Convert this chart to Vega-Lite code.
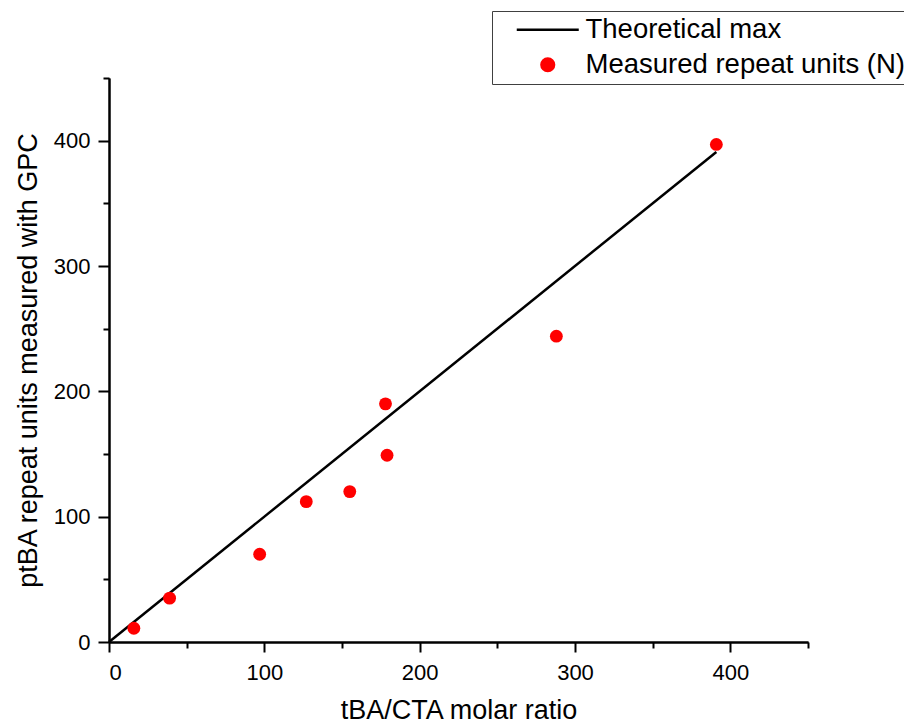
{
  "$schema": "https://vega.github.io/schema/vega-lite/v6.json",
  "width": 699,
  "height": 564,
  "autosize": {"type": "none"},
  "padding": {"left": 109, "top": 78, "right": 96, "bottom": 81},
  "background": "white",
  "config": {
    "font": "Liberation Sans",
    "view": {"stroke": null},
    "axis": {
      "grid": false,
      "domainColor": "black",
      "domainWidth": 2,
      "tickColor": "black",
      "tickWidth": 2,
      "labelColor": "black",
      "titleColor": "black",
      "labelFont": "Liberation Sans",
      "titleFont": "Liberation Sans",
      "labelFontSize": 22,
      "titleFontSize": 27,
      "titleFontWeight": "normal"
    },
    "legend": {"labelFont": "Liberation Sans"}
  },
  "datasets": {
    "theory": [
      {"x": 0, "y": 0, "series": "Theoretical max"},
      {"x": 391, "y": 391, "series": "Theoretical max"}
    ],
    "measured": [
      {"x": 16, "y": 11, "series": "Measured repeat units (N)"},
      {"x": 39, "y": 35, "series": "Measured repeat units (N)"},
      {"x": 97, "y": 70, "series": "Measured repeat units (N)"},
      {"x": 127, "y": 112, "series": "Measured repeat units (N)"},
      {"x": 155, "y": 120, "series": "Measured repeat units (N)"},
      {"x": 178, "y": 190, "series": "Measured repeat units (N)"},
      {"x": 179, "y": 149, "series": "Measured repeat units (N)"},
      {"x": 288, "y": 244, "series": "Measured repeat units (N)"},
      {"x": 391, "y": 397, "series": "Measured repeat units (N)"}
    ]
  },
  "layer": [
    {
      "data": {"name": "theory"},
      "mark": {"type": "line", "strokeWidth": 2.5},
      "encoding": {
        "x": {
          "field": "x", "type": "quantitative",
          "scale": {"domain": [0, 450], "nice": false, "zero": false},
          "axis": {"orient": "bottom", "values": [0, 100, 200, 300, 400], "tickSize": 10, "labelPadding": 10, "title": "tBA/CTA molar ratio", "titlePadding": 14}
        },
        "y": {
          "field": "y", "type": "quantitative",
          "scale": {"domain": [0, 450], "nice": false, "zero": false},
          "axis": {"orient": "left", "values": [0, 100, 200, 300, 400], "tickSize": 11, "labelPadding": 8, "title": "ptBA repeat units measured with GPC", "titlePadding": 11}
        },
        "color": {
          "field": "series", "type": "nominal",
          "scale": {"domain": ["Theoretical max", "Measured repeat units (N)"], "range": ["black", "#ff0000"]},
          "legend": {
            "orient": "none",
            "legendX": 383,
            "legendY": -67,
            "title": null,
            "strokeColor": "#404040",
            "padding": 5,
            "labelFontSize": 27.5,
            "labelColor": "black",
            "labelLimit": 600,
            "symbolSize": 140,
            "rowPadding": 6,
            "symbolOffset": 37,
            "labelOffset": 24,
            "encode": {
              "symbols": {
                "update": {
                  "shape": {"signal": "datum.value === 'Theoretical max' ? 'stroke' : 'circle'"},
                  "size": {"signal": "datum.value === 'Theoretical max' ? 3844 : 160"},
                  "fill": {"signal": "datum.value === 'Theoretical max' ? 'transparent' : '#ff0000'"},
                  "stroke": {"signal": "datum.value === 'Theoretical max' ? 'black' : 'transparent'"},
                  "strokeWidth": {"value": 2.5},
                  "opacity": {"value": 1}
                }
              }
            }
          }
        }
      }
    },
    {
      "data": {"name": "measured"},
      "mark": {"type": "point", "filled": true, "size": 165, "opacity": 1},
      "encoding": {
        "x": {
          "field": "x", "type": "quantitative",
          "scale": {"domain": [0, 450], "nice": false, "zero": false},
          "axis": {"orient": "bottom", "values": [50, 150, 250, 350, 450], "tickSize": 6, "labels": false, "title": null}
        },
        "y": {
          "field": "y", "type": "quantitative",
          "scale": {"domain": [0, 450], "nice": false, "zero": false},
          "axis": {"orient": "left", "values": [50, 150, 250, 350, 450], "tickSize": 6, "labels": false, "title": null}
        },
        "color": {"field": "series", "type": "nominal"}
      }
    }
  ],
  "resolve": {"axis": {"x": "independent", "y": "independent"}}
}
